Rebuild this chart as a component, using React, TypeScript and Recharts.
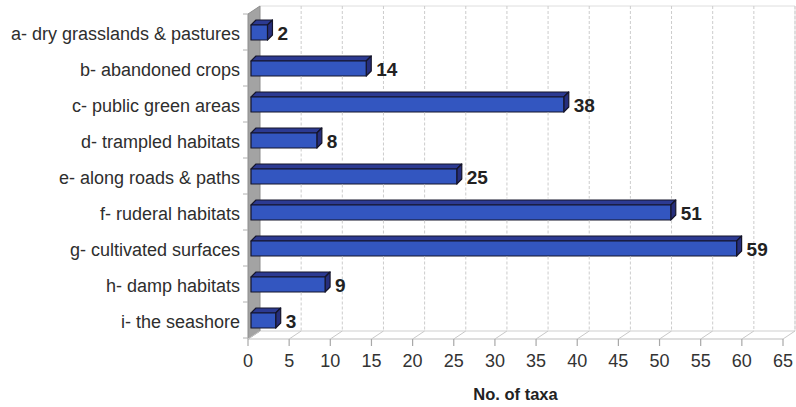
import React from 'react';
import { BarChart, Bar, XAxis, YAxis, LabelList } from 'recharts';

// Habitat categories and the number of taxa found in each
const habitats = [
  'a- dry grasslands & pastures',
  'b- abandoned crops',
  'c- public green areas',
  'd- trampled habitats',
  'e- along roads & paths',
  'f- ruderal habitats',
  'g- cultivated surfaces',
  'h- damp habitats',
  'i- the seashore',
];
const taxa = [2, 14, 38, 8, 25, 51, 59, 9, 3];
const valueTicks = [0, 5, 10, 15, 20, 25, 30, 35, 40, 45, 50, 55, 60, 65];
const axisTitle = 'No. of taxa';

const data = habitats.map((habitat, i) => ({ habitat, taxa: taxa[i] }));

const CHART_W = 796;
const CHART_H = 407;
const PLOT_LEFT = 248;
const PLOT_RIGHT = 783;
const PLOT_TOP = 14;
const PLOT_BOTTOM = 338;
const WALL_DX = 12;
const WALL_DY = 8;
const BAR_SIZE = 15;
const BAR_DEPTH = 5;
const BAR_SHIFT = 3;
const BAND = (PLOT_BOTTOM - PLOT_TOP) / habitats.length;
const HALF_BAND = BAND / 2;

const FONT = 'Arial, "Liberation Sans", Helvetica, sans-serif';

// Back-wall outline, floor edges and grey side wall of the 3-D plot box
const PlotBox = () => {
  const fy = PLOT_BOTTOM + 1;
  const bx = PLOT_LEFT + WALL_DX;
  const by = PLOT_TOP - WALL_DY;
  return (
    <g>
      <polyline
        points={`${bx},${by} ${PLOT_RIGHT + WALL_DX},${by} ${PLOT_RIGHT + WALL_DX},${fy - WALL_DY}`}
        fill="none"
        stroke="#dedede"
        strokeWidth={1}
      />
      <line x1={bx} y1={fy - WALL_DY} x2={PLOT_RIGHT + WALL_DX} y2={fy - WALL_DY} stroke="#cfcfcf" strokeWidth={1} />
      <polygon
        points={`${PLOT_LEFT},${PLOT_TOP} ${bx},${by} ${bx},${fy - WALL_DY} ${PLOT_LEFT},${fy}`}
        fill="#a3a3a3"
        stroke="#8c8c8c"
        strokeWidth={1}
      />
      <line x1={PLOT_LEFT} y1={fy} x2={PLOT_RIGHT} y2={fy} stroke="#bdbdbd" strokeWidth={1.2} />
    </g>
  );
};

// Vertical extents on the back wall that are hidden behind bars longer than the tick value
const hiddenSpans = (tickValue: number) =>
  taxa
    .map((v, i) => ({ v, c: PLOT_TOP + (i + 0.5) * BAND }))
    .filter((b) => b.v > tickValue)
    .map((b) => [b.c - BAR_SIZE / 2 - BAR_DEPTH - 1, b.c + BAR_SIZE / 2 + 1]);

// Value-axis tick: dotted back-wall gridline, floor diagonal, tick mark and label
const ValueTick = (props: any) => {
  const { x, y, payload } = props;
  const fy = y + 1;
  const gx = x + WALL_DX;
  const top = PLOT_TOP - WALL_DY;
  const bottom = fy - WALL_DY;
  const segments: number[][] = [];
  let cursor = top;
  if (payload.value !== 0) {
    hiddenSpans(payload.value).forEach(([a, b]) => {
      if (a > cursor) segments.push([cursor, a]);
      cursor = Math.max(cursor, b);
    });
    if (bottom > cursor) segments.push([cursor, bottom]);
  }
  return (
    <g>
      {segments.map(([a, b], i) => (
        <line
          key={i}
          x1={gx}
          y1={a}
          x2={gx}
          y2={b}
          stroke="#cccccc"
          strokeDasharray="3 2"
          strokeWidth={1}
        />
      ))}
      <line x1={x} y1={fy} x2={gx} y2={bottom} stroke="#c8c8c8" strokeWidth={1} />
      <line x1={x} y1={fy} x2={x} y2={fy + 7} stroke="#a8a8a8" strokeWidth={1.2} />
      <text x={x} y={fy + 28} textAnchor="middle" fontSize={18} fill="#333" fontFamily={FONT}>
        {payload.value}
      </text>
    </g>
  );
};

// Category tick: right-aligned label plus band-boundary tick marks
const HabitatTick = (props: any) => {
  const { x, y, payload, index } = props;
  return (
    <g>
      <line x1={x - 5} y1={y - HALF_BAND} x2={x} y2={y - HALF_BAND} stroke="#b0b0b0" strokeWidth={1} />
      {index === habitats.length - 1 && (
        <line x1={x - 5} y1={y + HALF_BAND} x2={x} y2={y + HALF_BAND} stroke="#b0b0b0" strokeWidth={1} />
      )}
      <text x={x - 8} y={y + 8} textAnchor="end" fontSize={18} fill="#2e2e2e" fontFamily={FONT}>
        {payload.value}
      </text>
    </g>
  );
};

// Bar drawn as a block: front face, top face and right face
const BlockBar = (props: any) => {
  const { x, y, width, height } = props;
  if (width == null || width <= 0) return null;
  const fx = x + BAR_SHIFT;
  const d = BAR_DEPTH;
  const r = fx + width;
  return (
    <g stroke="#15152a" strokeWidth={1.2} strokeLinejoin="round">
      <polygon
        points={`${fx},${y} ${fx + d},${y - d} ${r + d},${y - d} ${r},${y}`}
        fill="#2c3a92"
      />
      <polygon
        points={`${r},${y} ${r + d},${y - d} ${r + d},${y + height - d} ${r},${y + height}`}
        fill="#262e7c"
      />
      <rect x={fx} y={y} width={width} height={height} fill="#3356c0" />
    </g>
  );
};

const ValueLabel = (props: any) => {
  const { x, y, width, height, value } = props;
  return (
    <text
      x={x + width + BAR_SHIFT + BAR_DEPTH + 5}
      y={y + height / 2 + 7.5}
      fontSize={19}
      fontWeight="bold"
      fill="#222"
      fontFamily={FONT}
    >
      {value}
    </text>
  );
};

export default function App() {
  return (
    <div style={{ position: 'absolute', left: 0, top: 0, background: '#fff' }}>
      <BarChart
        width={CHART_W}
        height={CHART_H}
        data={data}
        layout="vertical"
        margin={{ top: PLOT_TOP, right: CHART_W - PLOT_RIGHT, bottom: 12, left: 8 }}
        barCategoryGap={0}
      >
        <PlotBox />
        <XAxis
          type="number"
          domain={[0, 65]}
          ticks={valueTicks}
          interval={0}
          axisLine={false}
          tickLine={false}
          tickSize={0}
          tickMargin={0}
          height={CHART_H - PLOT_BOTTOM - 12}
          tick={<ValueTick />}
          label={{
            value: axisTitle,
            position: 'insideBottom',
            offset: -5,
            style: { fontSize: 16.5, fontWeight: 'bold', fill: '#222', fontFamily: FONT },
          }}
        />
        <YAxis
          type="category"
          dataKey="habitat"
          width={PLOT_LEFT - 8}
          axisLine={false}
          tickLine={false}
          tickSize={0}
          tickMargin={0}
          interval={0}
          tick={<HabitatTick />}
        />
        <Bar dataKey="taxa" barSize={BAR_SIZE} shape={<BlockBar />} isAnimationActive={false}>
          <LabelList dataKey="taxa" content={<ValueLabel />} />
        </Bar>
      </BarChart>
    </div>
  );
}
